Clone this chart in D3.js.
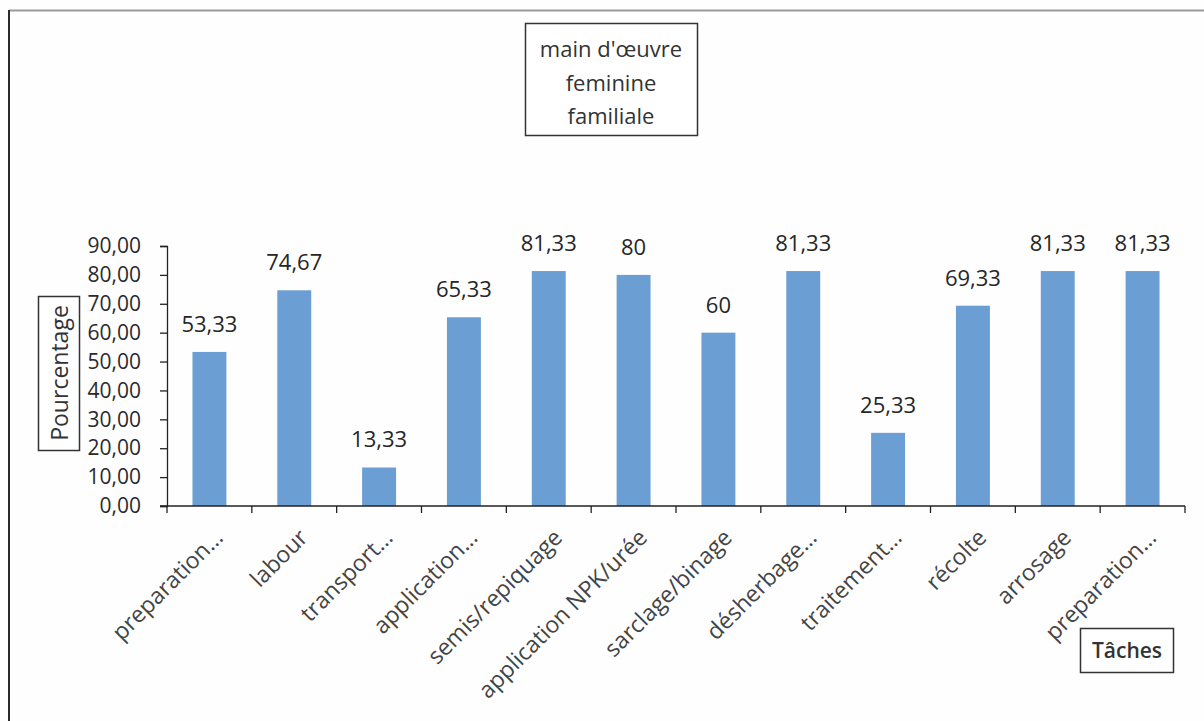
<!DOCTYPE html>
<html>
<head>
<meta charset="utf-8">
<script src="https://cdn.jsdelivr.net/npm/d3@7"></script>
<style>
  html, body { margin: 0; padding: 0; background: #fefefe; }
  svg { display: block; }
  text { font-family: "Open Sans", sans-serif; }
</style>
</head>
<body>
<svg id="chart" width="1204" height="721"></svg>
<script>
const categories = ["preparation…", "labour", "transport…", "application…", "semis/repiquage",
  "application NPK/urée", "sarclage/binage", "désherbage…", "traitement…", "récolte",
  "arrosage", "preparation…"];
const values = [53.33, 74.67, 13.33, 65.33, 81.33, 80, 60, 81.33, 25.33, 69.33, 81.33, 81.33];
const yTicks = [0, 10, 20, 30, 40, 50, 60, 70, 80, 90];
const titleLines = ["main d'œuvre", "feminine", "familiale"];
const yTitle = "Pourcentage";
const xTitle = "Tâches";

const svg = d3.select("#chart");
const locale = d3.formatLocale({ decimal: ",", thousands: " ", grouping: [3], currency: ["", "€"] });
const fmtTick = locale.format(".2f");
const fmtVal = v => Number.isInteger(v) ? String(v) : locale.format(".2f")(v);

const x0 = 167, x1 = 1185, yBase = 506, yTop = 246;
const x = d3.scaleBand().domain(d3.range(categories.length)).range([x0, x1]).paddingInner(0.6).paddingOuter(0.3);
const y = d3.scaleLinear().domain([0, 90]).range([yBase, yTop]);

// outer frame (top and left edges visible)
svg.append("line").attr("x1", 9).attr("x2", 1204).attr("y1", 10.5).attr("y2", 10.5)
  .attr("stroke", "#9a9a9a").attr("stroke-width", 2);
svg.append("line").attr("x1", 9).attr("x2", 9).attr("y1", 10).attr("y2", 721)
  .attr("stroke", "#2a2a2a").attr("stroke-width", 2);

// bars
svg.append("g").selectAll("rect").data(values).join("rect")
  .attr("x", (d, i) => x(i))
  .attr("width", x.bandwidth())
  .attr("y", d => y(d))
  .attr("height", d => yBase - y(d))
  .attr("fill", "#6b9fd4");

// value labels
svg.append("g").selectAll("text").data(values).join("text")
  .attr("x", (d, i) => x(i) + x.bandwidth() / 2)
  .attr("y", d => y(d) - 20)
  .attr("text-anchor", "middle")
  .attr("font-size", 22)
  .attr("fill", "#262626")
  .text(d => fmtVal(d));

// y axis
const yAxis = d3.axisLeft(y).tickValues(yTicks).tickFormat(fmtTick).tickSize(7).tickPadding(19);
const gy = svg.append("g").attr("transform", `translate(${x0},0)`).call(yAxis);
gy.select(".domain").attr("stroke", "#222").attr("stroke-width", 1.3);
gy.selectAll(".tick line").attr("stroke", "#222").attr("stroke-width", 1.3);
gy.selectAll(".tick text").attr("font-size", 21).attr("fill", "#2a2a2a")
  .attr("font-family", "Open Sans, sans-serif");

// x axis (ticks at band boundaries)
const step = x.step();
svg.append("line").attr("x1", x0 - 7).attr("x2", x1).attr("y1", yBase).attr("y2", yBase)
  .attr("stroke", "#222").attr("stroke-width", 1.3);
const boundaries = d3.range(categories.length + 1).map(i => x0 + i * step);
svg.append("g").selectAll("line").data(boundaries).join("line")
  .attr("x1", d => d).attr("x2", d => d).attr("y1", yBase).attr("y2", yBase + 7)
  .attr("stroke", "#222").attr("stroke-width", 1.3);

// x labels
svg.append("g").selectAll("text").data(categories).join("text")
  .attr("transform", (d, i) => `translate(${x(i) + x.bandwidth() / 2 + 15},${yBase + 33}) rotate(-45)`)
  .attr("text-anchor", "end")
  .attr("font-size", 23)
  .attr("fill", "#444")
  .text(d => d);

// title box
const tb = svg.append("g");
tb.append("rect").attr("x", 525.5).attr("y", 23.5).attr("width", 172).attr("height", 112)
  .attr("fill", "#fff").attr("stroke", "#333").attr("stroke-width", 1.5);
tb.selectAll("text").data(titleLines).join("text")
  .attr("x", 611).attr("y", (d, i) => 57 + i * 33.5)
  .attr("text-anchor", "middle").attr("font-size", 22).attr("fill", "#333")
  .text(d => d);

// y title box
svg.append("rect").attr("x", 38.5).attr("y", 296.5).attr("width", 41).attr("height", 154)
  .attr("fill", "#fff").attr("stroke", "#333").attr("stroke-width", 1.5);
svg.append("text").attr("transform", "translate(68,373) rotate(-90)")
  .attr("text-anchor", "middle").attr("font-size", 23).attr("fill", "#333")
  .text(yTitle);

// x title box
svg.append("rect").attr("x", 1080.5).attr("y", 628.5).attr("width", 93).attr("height", 44)
  .attr("fill", "#fff").attr("stroke", "#333").attr("stroke-width", 1.5);
svg.append("text").attr("x", 1127).attr("y", 658)
  .attr("text-anchor", "middle").attr("font-size", 21).attr("font-weight", 600).attr("fill", "#333")
  .text(xTitle);
</script>
</body>
</html>
